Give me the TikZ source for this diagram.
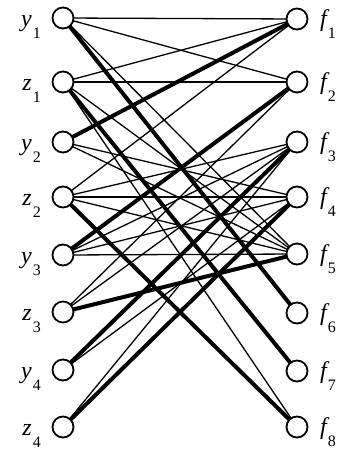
\documentclass[tikz,border=0pt]{standalone}
\usepackage{fontspec}
\setmainfont{Liberation Serif}
\begin{document}
\begin{tikzpicture}[x=1pt,y=-1pt,
  vtx/.style={circle,draw,line width=1.8pt,minimum size=21pt,inner sep=0pt,fill=white},
  thinedge/.style={line width=1.3pt},
  thickedge/.style={line width=4pt},
  lbl/.style={inner sep=0pt}]
\newcommand{\lab}[2]{{\fontsize{24}{24}\selectfont\itshape #1}\kern1pt\raisebox{-12pt}{\fontsize{16}{16}\selectfont #2}}
\useasboundingbox (0,0) rectangle (355,453);
% left nodes
\coordinate (y1) at (63,18);
\coordinate (z1) at (63,82);
\coordinate (y2) at (63,142);
\coordinate (z2) at (63,197);
\coordinate (y3) at (63,255);
\coordinate (z3) at (63,312);
\coordinate (y4) at (63,370);
\coordinate (z4) at (63,427);
% right nodes
\coordinate (f1) at (297,19);
\coordinate (f2) at (297,82);
\coordinate (f3) at (297,142);
\coordinate (f4) at (297,197);
\coordinate (f5) at (297,254);
\coordinate (f6) at (297,313);
\coordinate (f7) at (297,371);
\coordinate (f8) at (297,427);
% thin edges
\foreach \a/\b in {y1/f1,y1/f2,y1/f5,z1/f1,z1/f2,z1/f5,z1/f8,z2/f1,y2/f4,y2/f5,z2/f3,z2/f4,z2/f5,y3/f3,y3/f4,y3/f5,z3/f3,z3/f2,y4/f4,z4/f3}
  \draw[thinedge] (\a) -- (\b);
% thick edges
\foreach \a/\b in {y1/f6,z1/f7,y2/f1,z2/f8,y3/f2,z3/f5,y4/f3,z4/f4}
  \draw[thickedge] (\a) -- (\b);
% vertices
\foreach \n in {y1,z1,y2,z2,y3,z3,y4,z4,f1,f2,f3,f4,f5,f6,f7,f8}
  \node[vtx] (v\n) at (\n) {};
% labels
\node[lbl,anchor=base east] (ly1) at (41,26) {\lab{y}{1}};
\node[lbl,anchor=base east] (lz1) at (41,90) {\lab{z}{1}};
\node[lbl,anchor=base east] (ly2) at (41,150) {\lab{y}{2}};
\node[lbl,anchor=base east] (lz2) at (41,205) {\lab{z}{2}};
\node[lbl,anchor=base east] (ly3) at (41,263) {\lab{y}{3}};
\node[lbl,anchor=base east] (lz3) at (41,320) {\lab{z}{3}};
\node[lbl,anchor=base east] (ly4) at (41,378) {\lab{y}{4}};
\node[lbl,anchor=base east] (lz4) at (41,435) {\lab{z}{4}};
\node[lbl,anchor=base west] (lf1) at (320,26) {\lab{f}{1}};
\node[lbl,anchor=base west] (lf2) at (320,89) {\lab{f}{2}};
\node[lbl,anchor=base west] (lf3) at (320,149) {\lab{f}{3}};
\node[lbl,anchor=base west] (lf4) at (320,204) {\lab{f}{4}};
\node[lbl,anchor=base west] (lf5) at (320,261) {\lab{f}{5}};
\node[lbl,anchor=base west] (lf6) at (320,320) {\lab{f}{6}};
\node[lbl,anchor=base west] (lf7) at (320,378) {\lab{f}{7}};
\node[lbl,anchor=base west] (lf8) at (320,434) {\lab{f}{8}};
\end{tikzpicture}
\end{document}
